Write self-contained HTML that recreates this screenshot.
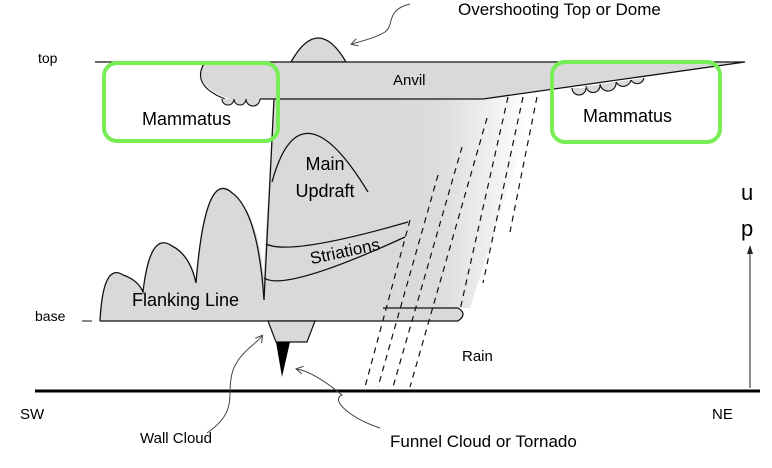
<!DOCTYPE html>
<html><head><meta charset="utf-8"><style>
html,body{margin:0;padding:0;background:#fff;}
svg{display:block;font-family:"Liberation Sans","DejaVu Sans",sans-serif;}
</style></head><body>
<svg width="772" height="468" viewBox="0 0 772 468" xmlns="http://www.w3.org/2000/svg">
<defs>
<linearGradient id="g" gradientUnits="userSpaceOnUse" x1="390" y1="0" x2="530" y2="0">
<stop offset="0" stop-color="#d9d9d9"/><stop offset="0.35" stop-color="#dcdcdc"/><stop offset="1" stop-color="#ffffff"/>
</linearGradient>
<marker id="ah" markerWidth="8" markerHeight="8" refX="6" refY="4" orient="auto" markerUnits="userSpaceOnUse">
<path d="M0,0 L7,4 L0,8" fill="none" stroke="#444" stroke-width="1"/></marker>
</defs>
<!-- body -->
<path d="M274,99 L483,99 L540,90 L470,308 L383,308 L262,300 Z" fill="url(#g)"/>
<!-- dome -->
<path d="M291,62 Q318,14 346,62 Z" fill="#d9d9d9" stroke="#111" stroke-width="1.3"/>
<!-- anvil -->
<path d="M205,62 L745,62 L483,99 L230,99 Q190,85 205,62 Z" fill="#d9d9d9"/>
<path d="M95,62 L745,62 L483,99 L260,99" fill="none" stroke="#111" stroke-width="1.3"/>
<path d="M205,62 Q190,85 225,99" fill="none" stroke="#111" stroke-width="1.2"/>
<path d="M222,99 a6,6 0 0 0 12,0 a6,6 0 0 0 12,0 a7,7 0 0 0 14,0" fill="#d9d9d9" stroke="#111" stroke-width="1.1"/>
<path d="M572,88 a7,7 0 0 0 14,0 M586,86 a7,7 0 0 0 14,-1 M600,84 a8,8 0 0 0 16,-2 M616,82 a8,8 0 0 0 15,-2 M631,80 a7,7 0 0 0 13,-2" fill="#d9d9d9" stroke="#111" stroke-width="1.1"/>
<!-- column left edge -->
<path d="M274,99 L264,300" stroke="#111" stroke-width="1.3"/>
<!-- updraft arch -->
<path d="M272,182 Q300,80 368,192" fill="none" stroke="#111" stroke-width="1.3"/>
<!-- flanking -->
<path d="M100,321 Q103,262 123,275 Q138,280 143,292 Q150,230 172,246 Q190,255 196,283 Q205,170 231,192 Q258,210 264,280 L264,300 L383,308 L458,308 Q468,314 458,321 Z" fill="#d9d9d9"/>
<path d="M100,321 Q103,262 123,275 Q138,280 143,292 Q150,230 172,246 Q190,255 196,283 Q205,170 231,192 Q258,210 264,300" fill="none" stroke="#111" stroke-width="1.3"/>
<path d="M100,321 L458,321 Q468,314 458,308 L383,308" fill="none" stroke="#111" stroke-width="1.3"/>
<!-- striations -->
<path d="M266,244 Q290,256 408,222" fill="none" stroke="#111" stroke-width="1.3"/>
<path d="M264,278 Q285,292 405,237" fill="none" stroke="#111" stroke-width="1.3"/>
<!-- wall cloud / tornado -->
<path d="M268,321 L315,321 L307,342 L276,342 Z" fill="#d9d9d9" stroke="#111" stroke-width="1.2"/>
<path d="M276,342 L290,342 L282,377 Z" fill="#000"/>
<!-- rain -->
<g stroke="#111" stroke-width="1.2" stroke-dasharray="6,5" fill="none">
<path d="M410,220 L365,387"/>
<path d="M438,175 L378,387"/>
<path d="M462,147 L393,387"/>
<path d="M487,118 L410,387"/>
<path d="M508,97 L460,310"/>
<path d="M523,97 L483,283"/>
<path d="M537,97 L510,232"/>
</g>
<!-- ground -->
<rect x="35" y="389.5" width="725" height="3" fill="#000"/>
<path d="M750,388 L750,247" stroke="#222" stroke-width="1"/>
<path d="M747,254 L750,245 L753,254 Z" fill="#222"/>
<path d="M82,321 L92,321" stroke="#111"/>
<!-- pointer curves -->
<path d="M410,4 C385,10 395,25 385,32 C375,38 365,40 352,44" fill="none" stroke="#444" stroke-width="1" marker-end="url(#ah)"/>
<path d="M207,433 C240,410 225,395 233,370 C240,352 255,345 262,336" fill="none" stroke="#444" stroke-width="1" marker-end="url(#ah)"/>
<path d="M380,428 C350,418 330,400 342,395 C330,385 312,372 297,369" fill="none" stroke="#444" stroke-width="1" marker-end="url(#ah)"/>
<!-- green boxes -->
<rect x="104" y="63" width="174" height="78" rx="13" fill="none" stroke="#77ee55" stroke-width="4"/>
<rect x="552" y="62" width="168" height="80" rx="13" fill="none" stroke="#77ee55" stroke-width="4"/>
<!-- text -->
<g fill="#000">
<text x="458" y="15" font-size="17">Overshooting Top or Dome</text>
<text x="38" y="63" font-size="14">top</text>
<text x="393" y="85" font-size="15">Anvil</text>
<text x="142" y="125" font-size="18">Mammatus</text>
<text x="583" y="122" font-size="18">Mammatus</text>
<text x="325" y="170" font-size="18" text-anchor="middle">Main</text>
<text x="325" y="197" font-size="18" text-anchor="middle">Updraft</text>
<text x="345" y="257" font-size="17" text-anchor="middle" transform="rotate(-12 345 252)">Striations</text>
<text x="132" y="306" font-size="18">Flanking Line</text>
<text x="35" y="321" font-size="14">base</text>
<text x="462" y="361" font-size="15">Rain</text>
<text x="20" y="419" font-size="15">SW</text>
<text x="712" y="419" font-size="15">NE</text>
<text x="741" y="200" font-size="22">u</text>
<text x="741" y="236" font-size="22">p</text>
<text x="140" y="443" font-size="15">Wall Cloud</text>
<text x="390" y="447" font-size="17">Funnel Cloud or Tornado</text>
</g>
</svg>
</body></html>
